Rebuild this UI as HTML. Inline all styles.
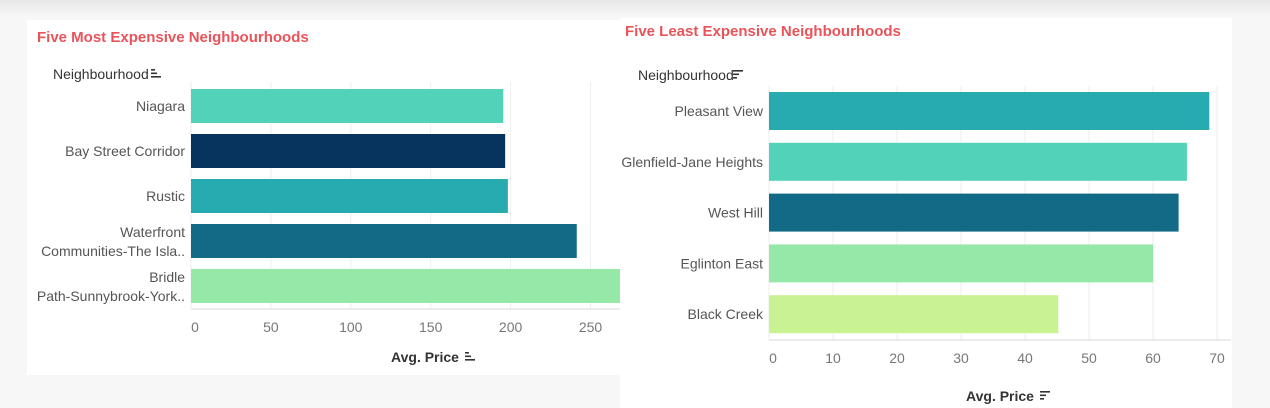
<!DOCTYPE html>
<html><head><meta charset="utf-8">
<style>
html,body{margin:0;padding:0;width:1270px;height:408px;overflow:hidden;background:#f7f7f7;font-family:"Liberation Sans Narrow","Liberation Sans",sans-serif;}
svg text{font-family:"Liberation Sans Narrow","Liberation Sans",sans-serif;}
</style></head>
<body>
<svg id="c" width="1270" height="408" xmlns="http://www.w3.org/2000/svg">
<defs><linearGradient id="sh" x1="0" y1="0" x2="0" y2="1"><stop offset="0" stop-color="#e6e6e6"/><stop offset="1" stop-color="#f7f7f7"/></linearGradient></defs>
<rect x="0" y="0" width="1270" height="16" fill="url(#sh)"/>
<rect x="27" y="20" width="593" height="355" fill="#fff"/>
<rect x="620" y="18" width="612" height="390" fill="#fff"/>
<g id="g"></g>
</svg>
<script>
const leftCats=["Niagara","Bay Street Corridor","Rustic","Waterfront|Communities-The Isla..","Bridle|Path-Sunnybrook-York.."];
const leftVals=[195.4,196.6,198.3,241.4,270];
const leftColors=["#52d3b9","#06345f","#27aab0","#136a86","#96e8a8"];
const leftTicks=[0,50,100,150,200,250];
const rightCats=["Pleasant View","Glenfield-Jane Heights","West Hill","Eglinton East","Black Creek"];
const rightVals=[68.8,65.3,64,60,45.2];
const rightColors=["#27aab0","#52d3b9","#136a86","#96e8a8","#c9f293"];
const rightTicks=[0,10,20,30,40,50,60,70];

const NS="http://www.w3.org/2000/svg";
const G=document.getElementById('g');
function el(t,a,txt){const e=document.createElementNS(NS,t);for(const k in a)e.setAttribute(k,a[k]);if(txt!==undefined)e.textContent=txt;G.appendChild(e);return e;}
function sortIcon(x,y,asc){
  const w=asc?[4,6,10]:[10,6,4];
  for(let i=0;i<3;i++){const r=el('rect',{x:x,y:y+i*3.5,width:w[i],height:1.6,fill:'#333'});
    
    }
}
function chart(o){
  const sx=v=>o.x0+v*o.ppu;
  o.ticks.forEach(t=>{
    const l=el('line',{x1:sx(t),x2:sx(t),y1:o.top,y2:o.axisY,stroke:'#eeeeee','stroke-width':1});
    
    
    const tx=el('text',{x:sx(t)+(t===0?4:0),y:o.axisY+23,'text-anchor':'middle','font-size':14,fill:'#777'},t);
    
    
  });
  const ax=el('line',{x1:o.x0,x2:o.xEnd,y1:o.axisY,y2:o.axisY,stroke:'#e6e6e6','stroke-width':1.5});
  
  
  o.cats.forEach((c,i)=>{
    const y=o.barTop+i*o.step;
    const w=Math.min(sx(o.vals[i]),o.clip)-o.x0;
    const b=el('rect',{x:o.x0,y:y,width:w,height:o.bh,fill:o.colors[i]});
    
    
    const parts=c.split('|');
    parts.forEach((p,j)=>{
      const yy=y+o.bh/2+5+(parts.length>1?(j===0?-9:10):0);
      const t=el('text',{x:o.labelX,y:yy,'text-anchor':'end','font-size':14,fill:'#555'},p);
      
      
    });
  });
  const ti=el('text',{x:o.titleX,y:o.titleY,'font-size':15,'font-weight':'bold',fill:'#e8545a'},o.title);
  
  
  const h=el('text',{x:o.hx,y:o.hy,'font-size':14,fill:'#333'},'Neighbourhood');
  
  
  sortIcon(o.hx+o.hw,o.hy-10,o.asc);
  const at=el('text',{x:o.atx,y:o.aty,'font-size':14,'font-weight':'bold',fill:'#333','text-anchor':'middle'},'Avg. Price');
  
  
  sortIcon(o.atx+40,o.aty-10,o.asc);
}
chart({cats:leftCats,vals:leftVals,colors:leftColors,ticks:leftTicks,x0:191,ppu:1.598,clip:620,xEnd:620,top:82,axisY:309,
  barTop:89,step:45,bh:34,labelX:185,title:'Five Most Expensive Neighbourhoods',titleX:37,titleY:42,hx:53,hy:79,hw:98,atx:425,aty:362,asc:true});
chart({cats:rightCats,vals:rightVals,colors:rightColors,ticks:rightTicks,x0:769,ppu:6.4,clip:1232,xEnd:1231,top:86,axisY:340,
  barTop:92,step:50.8,bh:38,labelX:763,title:'Five Least Expensive Neighbourhoods',titleX:625,titleY:36,hx:638,hy:80,hw:95,atx:1000,aty:401,asc:false});
</script>
</body></html>
